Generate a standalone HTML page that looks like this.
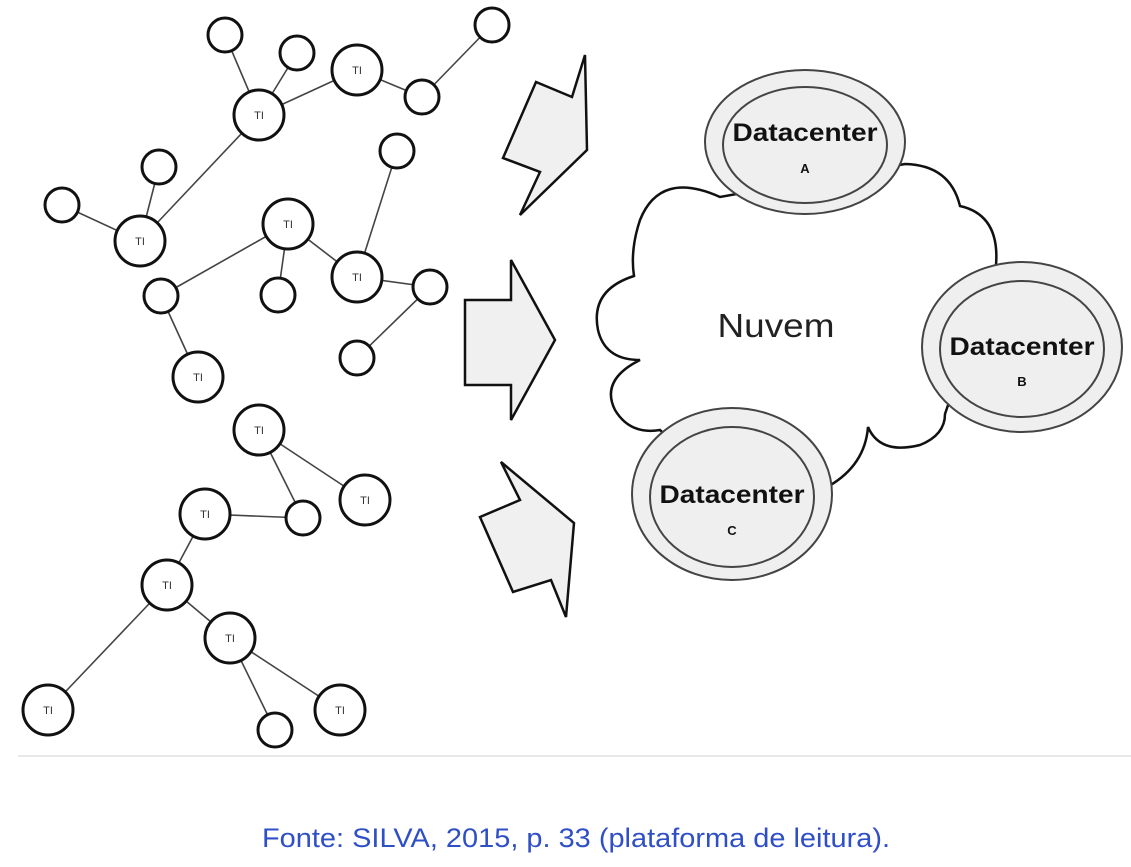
<!DOCTYPE html>
<html><head><meta charset="utf-8"><style>
body{margin:0;background:#fff;width:1131px;height:867px;overflow:hidden}
svg{display:block}
</style></head><body>
<svg width="1131" height="867" xmlns="http://www.w3.org/2000/svg" font-family="Liberation Sans, Arial, sans-serif">
<line x1="18" y1="756" x2="1131" y2="756" stroke="#e8e8e8" stroke-width="2"/>
<g stroke="#444" stroke-width="1.6">
<line x1="225" y1="35" x2="259" y2="115"/>
<line x1="297" y1="53" x2="259" y2="115"/>
<line x1="259" y1="115" x2="357" y2="70"/>
<line x1="357" y1="70" x2="422" y2="97"/>
<line x1="422" y1="97" x2="492" y2="25"/>
<line x1="259" y1="115" x2="140" y2="241"/>
<line x1="159" y1="167" x2="140" y2="241"/>
<line x1="62" y1="205" x2="140" y2="241"/>
<line x1="288" y1="224" x2="161" y2="296"/>
<line x1="288" y1="224" x2="278" y2="295"/>
<line x1="288" y1="224" x2="357" y2="277"/>
<line x1="357" y1="277" x2="397" y2="151"/>
<line x1="357" y1="277" x2="430" y2="287"/>
<line x1="430" y1="287" x2="357" y2="358"/>
<line x1="161" y1="296" x2="198" y2="377"/>
<line x1="259" y1="430" x2="303" y2="518"/>
<line x1="259" y1="430" x2="365" y2="500"/>
<line x1="205" y1="514" x2="303" y2="518"/>
<line x1="205" y1="514" x2="167" y2="585"/>
<line x1="167" y1="585" x2="230" y2="638"/>
<line x1="167" y1="585" x2="48" y2="710"/>
<line x1="230" y1="638" x2="275" y2="730"/>
<line x1="230" y1="638" x2="340" y2="710"/>
</g>
<g fill="#fff" stroke="#111" stroke-width="3">
<circle cx="225" cy="35" r="17"/><circle cx="297" cy="53" r="17"/><circle cx="422" cy="97" r="17"/>
<circle cx="492" cy="25" r="17"/><circle cx="159" cy="167" r="17"/><circle cx="62" cy="205" r="17"/>
<circle cx="397" cy="151" r="17"/><circle cx="430" cy="287" r="17"/><circle cx="357" cy="358" r="17"/>
<circle cx="161" cy="296" r="17"/><circle cx="278" cy="295" r="17"/><circle cx="303" cy="518" r="17"/>
<circle cx="275" cy="730" r="17"/>
<circle cx="259" cy="115" r="25"/><circle cx="357" cy="70" r="25"/><circle cx="140" cy="241" r="25"/>
<circle cx="288" cy="224" r="25"/><circle cx="357" cy="277" r="25"/><circle cx="198" cy="377" r="25"/>
<circle cx="259" cy="430" r="25"/><circle cx="365" cy="500" r="25"/><circle cx="205" cy="514" r="25"/>
<circle cx="167" cy="585" r="25"/><circle cx="230" cy="638" r="25"/><circle cx="48" cy="710" r="25"/>
<circle cx="340" cy="710" r="25"/>
</g>
<g font-size="11" fill="#333" text-anchor="middle">
<text x="259" y="119">TI</text><text x="357" y="74">TI</text><text x="140" y="245">TI</text>
<text x="288" y="228">TI</text><text x="357" y="281">TI</text><text x="198" y="381">TI</text>
<text x="259" y="434">TI</text><text x="365" y="504">TI</text><text x="205" y="518">TI</text>
<text x="167" y="589">TI</text><text x="230" y="642">TI</text><text x="48" y="714">TI</text>
<text x="340" y="714">TI</text>
</g>
<g fill="#f0f0f0" stroke="#111" stroke-width="2.5" stroke-linejoin="miter">
<polygon points="585,55 587,150 520,215 540,172 503,158 536,82 572,97"/>
<polygon points="511,260 555,340 511,420 511,385 465,385 465,300 511,300"/>
<polygon points="501,462 520,500 480,517 513,592 551,580 566,617 574,523"/>
</g>
<path d="M720 197 Q660 170 640 220 Q630 250 634 276 Q590 290 598 330 Q605 360 640 360 Q600 380 615 410 Q630 435 660 430 L700 470 L829 486 Q865 465 868 427 Q880 455 920 445 Q945 435 945 414 L996 265 Q1000 215 960 206 Q950 165 905 164 Z" fill="#fff" stroke="#111" stroke-width="2.5"/>
<text x="776" y="337" font-size="33" fill="#222" text-anchor="middle" textLength="117" lengthAdjust="spacingAndGlyphs">Nuvem</text>
<g fill="#efefef" stroke="#444" stroke-width="2">
<ellipse cx="805" cy="142" rx="100" ry="72"/><ellipse cx="805" cy="145" rx="82" ry="58"/>
<ellipse cx="1022" cy="347" rx="100" ry="85"/><ellipse cx="1022" cy="349" rx="82" ry="68"/>
<ellipse cx="732" cy="494" rx="100" ry="86"/><ellipse cx="732" cy="497" rx="82" ry="70"/>
</g>
<g font-weight="bold" fill="#111" text-anchor="middle">
<text x="805" y="141" font-size="25" textLength="145" lengthAdjust="spacingAndGlyphs">Datacenter</text><text x="805" y="173" font-size="13">A</text>
<text x="1022" y="355" font-size="25" textLength="145" lengthAdjust="spacingAndGlyphs">Datacenter</text><text x="1022" y="386" font-size="13">B</text>
<text x="732" y="503" font-size="25" textLength="145" lengthAdjust="spacingAndGlyphs">Datacenter</text><text x="732" y="535" font-size="13">C</text>
</g>
<text x="576" y="847" font-size="27" fill="#2f4fc6" text-anchor="middle" textLength="628" lengthAdjust="spacingAndGlyphs">Fonte: SILVA, 2015, p. 33 (plataforma de leitura).</text>
</svg>
</body></html>
